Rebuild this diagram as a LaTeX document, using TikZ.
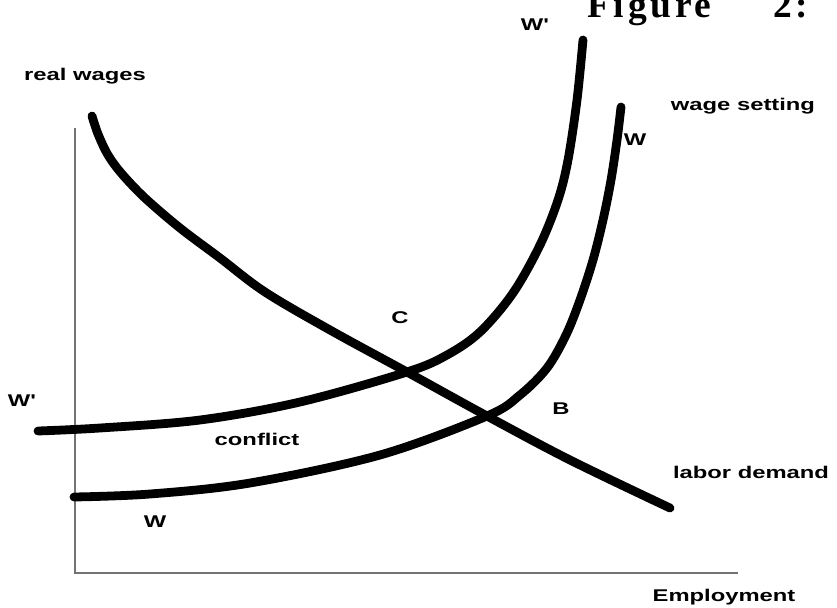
\documentclass[tikz,border=0pt]{standalone}
\usepackage{fontspec}
\newfontfamily\labfont[FakeStretch=1.4]{Liberation Sans}
\newfontfamily\figfont[LetterSpace=10]{Liberation Serif}
\begin{document}
\begin{tikzpicture}[x=0.03cm,y=-0.03cm,
  curve/.style={line width=7.5pt,line cap=round,line join=round},
  axis/.style={line width=1.2pt,draw=black!55},
  lab/.style={font=\labfont\bfseries\fontsize{14.5}{17}\selectfont,inner sep=0pt},
  figlab/.style={font=\figfont\bfseries\fontsize{32}{34}\selectfont,inner sep=0pt,anchor=base west}]
\useasboundingbox (0,0) rectangle (837,607);
% axes
\coordinate (ytop) at (75,128);
\coordinate (orig) at (75,573);
\coordinate (xend) at (738,573);
\draw[axis] (ytop) -- (orig) -- (xend);
% labor demand
\draw[curve] plot[smooth,tension=0.55] coordinates {(92,116) (98,134) (108,155) (122,174) (145,198) (180,228) (220,258) (265,292) (330,330) (407,372) (487,416) (570,460) (670,508)};
% W' curve
\draw[curve] plot[smooth,tension=0.55] coordinates {(38,431) (100,428) (200,420) (300,402) (407,372) (447,355) (480,332) (513,293) (540,245) (558,200) (568,160) (577,100) (583,40)};
% W curve
\draw[curve] plot[smooth,tension=0.55] coordinates {(74,497) (150,494) (250,483) (380,455) (487,416) (520,395) (547,368) (566,335) (580,300) (593,260) (603,220) (611,180) (617,140) (621,107)};
% labels
\node[lab] (realwages) at (85,76) {real wages};
\node[lab] (wptop) at (535,25) {W'};
\node[figlab] (fig) at (587,17) {Figure};
\node[figlab] (fignum) at (773,17) {2:};
\node[lab] (wagesetting) at (743,106) {wage setting};
\node[lab] (wtop) at (635,140) {W};
\node[lab] (c) at (400,318) {C};
\node[lab] (b) at (561,409) {B};
\node[lab] (wpleft) at (22,401) {W'};
\node[lab] (conflict) at (257,439) {conflict};
\node[lab] (labordemand) at (751,472) {labor demand};
\node[lab] (employment) at (724,597) {Employment};
\node[lab] (wbottom) at (155,522) {W};
\end{tikzpicture}
\end{document}
